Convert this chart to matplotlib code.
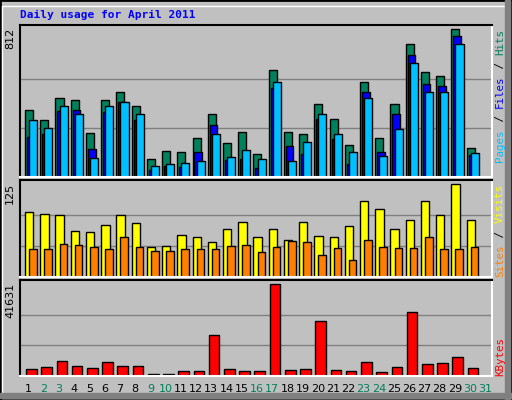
import matplotlib
matplotlib.use("Agg")
import matplotlib.pyplot as plt
from matplotlib.patches import Rectangle
import numpy as np

days = list(range(1, 31))
hits  = [367,316,437,426,244,426,470,393,101,145,140,217,349,189,250,129,586,250,239,399,321,178,520,217,399,729,575,558,812,162]
files = [220,235,362,371,156,356,410,312,37,59,53,140,288,92,101,48,492,173,129,321,211,73,470,140,349,669,509,503,773,119]
pages = [316,272,393,349,107,388,410,344,62,73,79,90,239,112,151,101,525,90,195,344,239,140,432,118,266,625,470,465,729,134]
visits = [88,85,83,62,61,70,84,73,41,42,57,54,47,65,74,54,65,50,74,55,54,68,102,91,65,77,102,84,125,76]
sites  = [38,38,45,43,41,37,54,41,35,35,38,38,38,42,43,34,41,49,47,30,39,23,50,41,39,39,54,38,37,41]
kbytes = [3028,3936,6662,4391,3482,6207,4391,4391,1060,1060,2120,2120,18774,3028,2120,2120,41631,2574,3028,24678,2574,2120,6207,1665,3936,28917,5299,5753,8478,3482]
day_labels = [str(d) for d in range(1, 32)]
weekend = {2,3,9,10,16,17,23,24,30,31}

W, H = 512, 400
fig = plt.figure(figsize=(W/100, H/100), dpi=100, facecolor="#C0C0C0")
BG = "#C0C0C0"
mono = "DejaVu Sans Mono"

def add_ax(top, bottom, left=20, right=492):
    ax = fig.add_axes([left/W, 1-bottom/H, (right-left)/W, (bottom-top)/H])
    ax.set_facecolor(BG)
    for s in ("top", "left"):
        ax.spines[s].set_color("black"); ax.spines[s].set_linewidth(1.5)
    for s in ("bottom", "right"):
        ax.spines[s].set_color("white"); ax.spines[s].set_linewidth(1.5)
    ax.set_xticks([]); ax.set_yticks([])
    ax.set_xlim(0, 31)
    return ax

x0 = np.array(days) - 1
ek = dict(edgecolor="black", linewidth=1, align="edge")

ax1 = add_ax(25, 177)
ax1.set_ylim(0, 836)
for g in (812/3, 812*2/3):
    ax1.axhline(g, color="#808080", lw=1, zorder=0)
ax1.bar(x0+0.33, hits, 0.53, color="#00805C", **ek)
ax1.bar(x0+0.46, files, 0.5, color="#0000FF", **ek)
ax1.bar(x0+0.6, pages, 0.53, color="#00C0FF", **ek)

ax2 = add_ax(180, 277)
ax2.set_ylim(0, 130.4)
for g in (125/3, 125*2/3):
    ax2.axhline(g, color="#808080", lw=1, zorder=0)
ax2.bar(x0+0.33, visits, 0.55, color="#FFFF00", **ek)
ax2.bar(x0+0.6, sites, 0.5, color="#FF8000", **ek)

ax3 = add_ax(280, 376)
ax3.set_ylim(0, 43447)
for g in (41631/3, 41631*2/3):
    ax3.axhline(g, color="#808080", lw=1, zorder=0)
ax3.bar(x0+0.4, kbytes, 0.7, color="#FF0000", **ek)

# day labels
for i, lab in enumerate(day_labels):
    d = i + 1
    xp = 20 + (d - 0.5) * (472/31) + 1
    fig.text(xp/W, 1-389/H, lab, ha="center", va="center", fontsize=8,
             family="DejaVu Sans", color="#00805C" if d in weekend else "black")

# max labels
for txt, ytop in (("812", 28), ("125", 183), ("41631", 283)):
    fig.text(10/W, 1-ytop/H, txt, rotation=90, ha="center", va="top", fontsize=8, family="DejaVu Sans")

# title
fig.text(20/W, 1-15/H, "Daily usage for April 2011", ha="left", va="center",
         fontsize=8, fontweight="bold", family=mono, color="#0000FF")

def vlabel(parts, ybottom, cw=6.7):
    y = ybottom
    for t, c in parts:
        fig.text(500/W, 1-y/H, t, rotation=90, ha="center", va="bottom",
                 fontsize=7.8, family=mono, color=c)
        y -= cw*len(t)

vlabel([("Pages", "#00C0FF"), (" / ", "black"), ("Files", "#0000FF"), (" / ", "black"), ("Hits", "#00805C")], 162)
vlabel([("Sites", "#FF8000"), (" / ", "black"), ("Visits", "#FFFF00")], 277)
vlabel([("KBytes", "#FF0000")], 376)

# frame
fig.patches.append(Rectangle((0, 0), 1, 1, transform=fig.transFigure, fill=False, edgecolor="black", lw=2))
fig.patches.append(Rectangle((2/W, 2/H), (W-8)/W, (H-8)/H, transform=fig.transFigure, fill=False, edgecolor="white", lw=1))
fig.patches.append(Rectangle(((W-7)/W, 0), 5/W, 1, transform=fig.transFigure, color="#808080"))
fig.patches.append(Rectangle((0, 2/H), 1, 5/H, transform=fig.transFigure, color="#808080"))

fig.savefig("out.png", dpi=100, facecolor=fig.get_facecolor())
